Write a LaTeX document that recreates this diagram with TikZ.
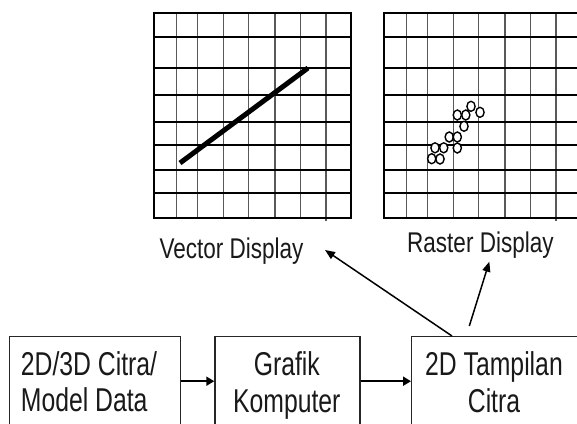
\documentclass[tikz,border=0pt]{standalone}
\usepackage{fontspec}
\newfontfamily\nfbox[FakeStretch=0.75]{Liberation Sans}
\newfontfamily\nflab[FakeStretch=0.79]{Liberation Sans}
\usetikzlibrary{arrows.meta}
\tikzset{
  vline/.style={draw=black!65, line width=1.3pt},
  hline/.style={draw=black, line width=1.7pt},
  boxnode/.style={draw=black!85, line width=1.4pt, rectangle, inner sep=0pt, fill=white},
  boxtext/.style={inner sep=0pt, font=\nfbox\fontsize{33}{37}\selectfont, text=black!90},
  labeltext/.style={inner sep=0pt, font=\nflab\fontsize{28.5}{32}\selectfont, text=black!90},
  flowarrow/.style={draw=black, line width=1.8pt, -{Triangle[length=8pt,width=9pt]}},
  diagarrow/.style={draw=black, line width=1.5pt, -{Triangle[length=10pt,width=8pt]}},
  pixel/.style={draw=black, line width=1.4pt, fill=white}
}
\begin{document}
\begin{tikzpicture}[x=1pt,y=-1pt]
\useasboundingbox (0,0) rectangle (577,423);
% grids
\foreach \dx in {0,230}{
  \begin{scope}[xshift=\dx pt]
    \foreach \x in {176.7,197.3,223.3,248.7,275,300.7,326}
      \draw[vline] (\x,12.7) -- (\x,218.3);
    \draw[vline] (326,218.3) -- (326,221);
    \foreach \y in {12.7,37.3,68.3,94.7,121.7,144.7,170,193.3,218.3}
      \draw[hline] (153.2,\y) -- (351.5,\y);
    \draw[hline] (154,12.7) -- (154,218.3);
    \draw[hline] (350.7,12.7) -- (350.7,218.3);
  \end{scope}
}
% vector line
\draw[line width=5pt] (180,163) -- (308,68);
% raster pixels
\foreach \p in {(431.7,158.7),(440,159),(435,147.8),(443.7,147.8),(449.2,137),(457.3,137),(457.3,148),(464,126.3),(457.3,115),(465.8,115),(471,106.3),(480,112.3)}
  \draw[pixel] \p ellipse [x radius=4.1pt, y radius=5pt];
% labels
\node[labeltext, anchor=base west] (vd) at (159.3,258.3) {Vector Display};
\node[labeltext, anchor=base west] (rd) at (407,252) {Raster Display};
% boxes
\node[boxnode, anchor=north west, minimum width=171pt, minimum height=89pt] (b1) at (9,336) {};
\node[boxnode, anchor=north west, minimum width=145pt, minimum height=89pt] (b2) at (214.3,336) {};
\node[boxnode, anchor=north west, minimum width=170pt, minimum height=89pt] (b3) at (411,336) {};
% box texts
\node[boxtext, anchor=base west] (t1a) at (20.7,375.7) {2D/3D Citra/};
\node[boxtext, anchor=base west] (t1b) at (20.7,411.7) {Model Data};
\node[boxtext, anchor=base] (t2a) at (286.8,375.5) {Grafik};
\node[boxtext, anchor=base] (t2b) at (286.8,412) {Komputer};
\node[boxtext, anchor=base] (t3a) at (494,375.5) {2D Tampilan};
\node[boxtext, anchor=base] (t3b) at (494,412) {Citra};
% connectors
\draw[flowarrow] (b1.east) -- (b2.west);
\draw[flowarrow] (b2.east) -- (b3.west);
\coordinate (vtip) at (325,250);
\coordinate (rstart) at (469.3,326);
\coordinate (rtip) at (489.3,261.7);
\draw[diagarrow] ([xshift=41pt]b3.north west) -- (vtip);
\draw[diagarrow] (rstart) -- (rtip);
\end{tikzpicture}
\end{document}
